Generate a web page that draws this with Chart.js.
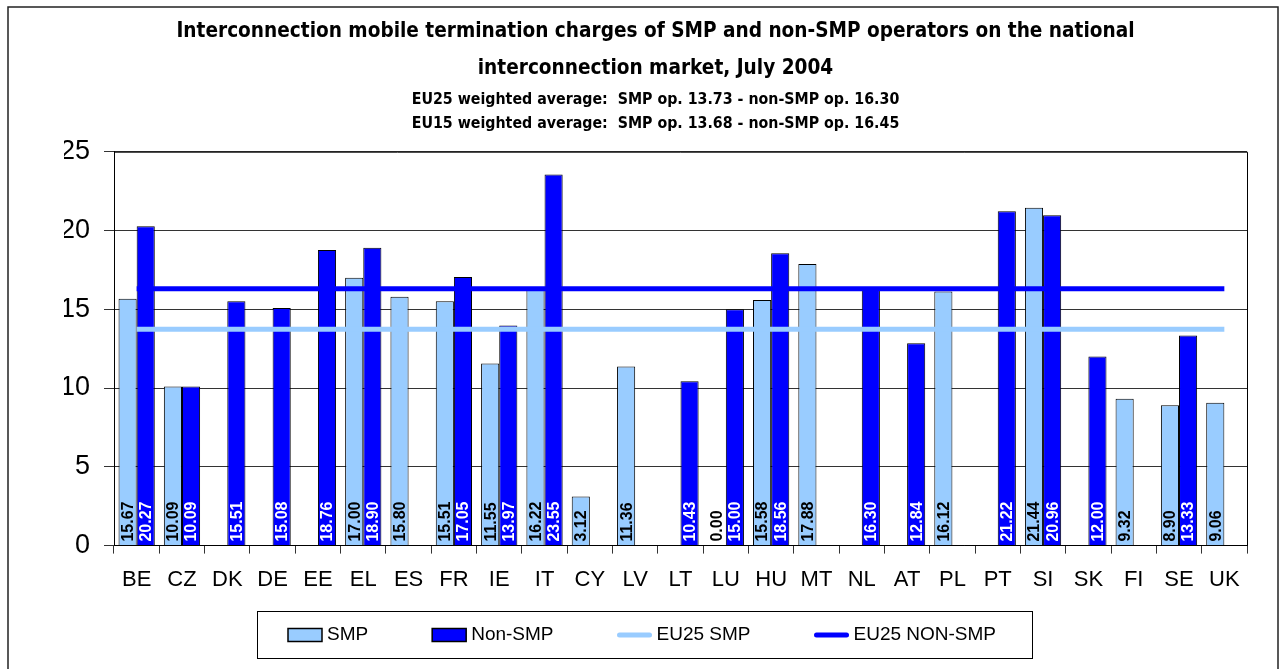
<!DOCTYPE html>
<html>
<head>
<meta charset="utf-8">
<title>Mobile termination charges, July 2004</title>
<script src="https://cdn.jsdelivr.net/npm/chart.js@4.4.1/dist/chart.umd.min.js"></script>
<style>
  html, body { margin: 0; padding: 0; background: #fff; }
  #wrap { width: 1284px; height: 669px; }
</style>
</head>
<body>
<div id="wrap"><canvas id="chart" width="1284" height="669"></canvas></div>
<script>
// ----- Data -----
const countries = ['BE', 'CZ', 'DK', 'DE', 'EE', 'EL', 'ES', 'FR', 'IE', 'IT', 'CY', 'LV', 'LT',
                   'LU', 'HU', 'MT', 'NL', 'AT', 'PL', 'PT', 'SI', 'SK', 'FI', 'SE', 'UK'];

const smp = [15.67, 10.09, null, null, null, 17.00, 15.80, 15.51, 11.55, 16.22, 3.12, 11.36, null,
             0.00, 15.58, 17.88, null, null, 16.12, null, 21.44, null, 9.32, 8.90, 9.06];

const nonSmp = [20.27, 10.09, 15.51, 15.08, 18.76, 18.90, null, 17.05, 13.97, 23.55, null, null, 10.43,
                15.00, 18.56, null, 16.30, 12.84, null, 21.22, 20.96, 12.00, null, 13.33, null];

// EU25 weighted averages, one point per country
const eu25Smp = [13.73, 13.73, 13.73, 13.73, 13.73, 13.73, 13.73, 13.73, 13.73, 13.73, 13.73, 13.73, 13.73,
                 13.73, 13.73, 13.73, 13.73, 13.73, 13.73, 13.73, 13.73, 13.73, 13.73, 13.73, 13.73];
const eu25NonSmp = [16.30, 16.30, 16.30, 16.30, 16.30, 16.30, 16.30, 16.30, 16.30, 16.30, 16.30, 16.30, 16.30,
                    16.30, 16.30, 16.30, 16.30, 16.30, 16.30, 16.30, 16.30, 16.30, 16.30, 16.30, 16.30];

const yTicks = [0, 5, 10, 15, 20, 25];

const titleLines = ['Interconnection mobile termination charges of SMP and non-SMP operators on the national',
                    'interconnection market, July 2004'];
const subtitleLines = ['EU25 weighted average:  SMP op. 13.73 - non-SMP op. 16.30',
                       'EU15 weighted average:  SMP op. 13.68 - non-SMP op. 16.45'];

const LIGHT = '#99CCFF';
const DARK = '#0000FF';
const SANS = "'Liberation Sans', Arial, sans-serif";
const NARROW = "'Liberation Sans Narrow', 'DejaVu Sans Condensed', 'Liberation Sans', sans-serif";

// ----- Outer frame and plot border -----
const framePlugin = {
    id: 'frame',
    beforeDraw(chart) {
        const ctx = chart.ctx;
        ctx.save();
        ctx.strokeStyle = '#222';
        ctx.lineWidth = 1.5;
        ctx.beginPath();
        ctx.moveTo(8, 669);
        ctx.lineTo(8, 7);
        ctx.lineTo(1278, 7);
        ctx.lineTo(1278, 669);
        ctx.stroke();
        ctx.restore();
    },
    afterDatasetsDraw(chart) {
        const a = chart.chartArea;
        const ctx = chart.ctx;
        ctx.save();
        ctx.strokeStyle = '#000';
        ctx.lineWidth = 1;
        ctx.beginPath();
        ctx.moveTo(a.left, a.top + 0.5);
        ctx.lineTo(a.right + 0.5, a.top + 0.5);
        ctx.lineTo(a.right + 0.5, a.bottom);
        ctx.stroke();
        ctx.restore();
    }
};

// ----- Rotated value labels at the foot of each bar -----
const valueLabels = {
    id: 'valueLabels',
    afterDatasetsDraw(chart) {
        const ctx = chart.ctx;
        const bottom = chart.chartArea.bottom;
        [0, 1].forEach(function (di) {
            const ds = chart.data.datasets[di];
            const meta = chart.getDatasetMeta(di);
            meta.data.forEach(function (bar, i) {
                const v = ds.data[i];
                if (v === null || v === undefined) return;
                ctx.save();
                ctx.translate(bar.x, bottom - 4);
                ctx.rotate(-Math.PI / 2);
                ctx.font = 'bold 16px ' + SANS;
                ctx.fillStyle = di === 0 ? '#000' : '#fff';
                ctx.textAlign = 'left';
                ctx.textBaseline = 'middle';
                ctx.fillText(v.toFixed(2), 0, 1);
                ctx.restore();
            });
        });
    }
};

// ----- Legend drawn in a framed box under the axis -----
const boxLegend = {
    id: 'boxLegend',
    afterDraw(chart) {
        const ctx = chart.ctx;
        const sets = chart.data.datasets;
        const symW = 34, gapText = 5, gapItem = 64, cy = 635;
        ctx.save();
        ctx.font = '19px ' + SANS;
        const widths = sets.map(ds => symW + gapText + ctx.measureText(ds.label).width);
        let x = 288;

        ctx.strokeStyle = '#000';
        ctx.lineWidth = 1;
        ctx.strokeRect(257.5, 611.5, 775, 47);

        sets.forEach(function (ds, i) {
            if (ds.type === 'line') {
                ctx.strokeStyle = ds.borderColor;
                ctx.lineWidth = 5;
                ctx.lineCap = 'round';
                ctx.beginPath();
                ctx.moveTo(x + 2, cy);
                ctx.lineTo(x + symW - 2, cy);
                ctx.stroke();
            } else {
                ctx.fillStyle = ds.backgroundColor;
                ctx.fillRect(x, cy - 6.5, symW, 13);
                ctx.strokeStyle = '#000';
                ctx.lineWidth = 1.5;
                ctx.strokeRect(x, cy - 6.5, symW, 13);
            }
            ctx.fillStyle = '#000';
            ctx.textAlign = 'left';
            ctx.textBaseline = 'middle';
            ctx.fillText(ds.label, x + symW + gapText, cy);
            x += widths[i] + gapItem;
        });
        ctx.restore();
    }
};

const ctx = document.getElementById('chart').getContext('2d');
new Chart(ctx, {
    type: 'bar',
    data: {
        labels: countries,
        datasets: [
            { type: 'bar', label: 'SMP', data: smp, backgroundColor: LIGHT, borderColor: '#000',
              borderWidth: 1, categoryPercentage: 0.8, barPercentage: 1.0, order: 1 },
            { type: 'bar', label: 'Non-SMP', data: nonSmp, backgroundColor: DARK, borderColor: '#000',
              borderWidth: 1, categoryPercentage: 0.8, barPercentage: 1.0, order: 1 },
            { type: 'line', label: 'EU25 SMP', data: eu25Smp, borderColor: LIGHT, backgroundColor: LIGHT,
              borderWidth: 5, pointRadius: 0, fill: false, order: 0 },
            { type: 'line', label: 'EU25 NON-SMP', data: eu25NonSmp, borderColor: DARK, backgroundColor: DARK,
              borderWidth: 5, pointRadius: 0, fill: false, order: 0 }
        ]
    },
    options: {
        responsive: false,
        animation: false,
        events: [],
        layout: { padding: { top: 0, left: 64, right: 37, bottom: 63 } },
        plugins: {
            legend: { display: false },
            tooltip: { enabled: false },
            title: {
                display: true,
                text: titleLines,
                color: '#000',
                font: { family: NARROW, size: 20.6, weight: 'bold', lineHeight: 1.8 },
                padding: { top: 13, bottom: 0 }
            },
            subtitle: {
                display: true,
                text: subtitleLines,
                color: '#000',
                font: { family: NARROW, size: 15.8, weight: 'bold', lineHeight: 1.52 },
                padding: { top: 0.5, bottom: 16 }
            }
        },
        scales: {
            x: {
                offset: true,
                grid: { display: true, drawOnChartArea: false, drawTicks: true, tickLength: 8,
                        color: '#333', offset: true },
                border: { color: '#000', width: 1 },
                ticks: { color: '#000', padding: 13, maxRotation: 0, autoSkip: false,
                         font: { family: SANS, size: 22 } }
            },
            y: {
                min: 0,
                max: 25,
                afterFit(scale) { scale.width = 50; },
                afterBuildTicks(scale) { scale.ticks = yTicks.map(v => ({ value: v })); },
                grid: { color: '#333', lineWidth: 1, tickLength: 10 },
                border: { color: '#000', width: 1 },
                ticks: { color: '#000', padding: 14, font: { family: SANS, size: 27 } }
            }
        }
    },
    plugins: [framePlugin, valueLabels, boxLegend]
});
</script>
</body>
</html>
